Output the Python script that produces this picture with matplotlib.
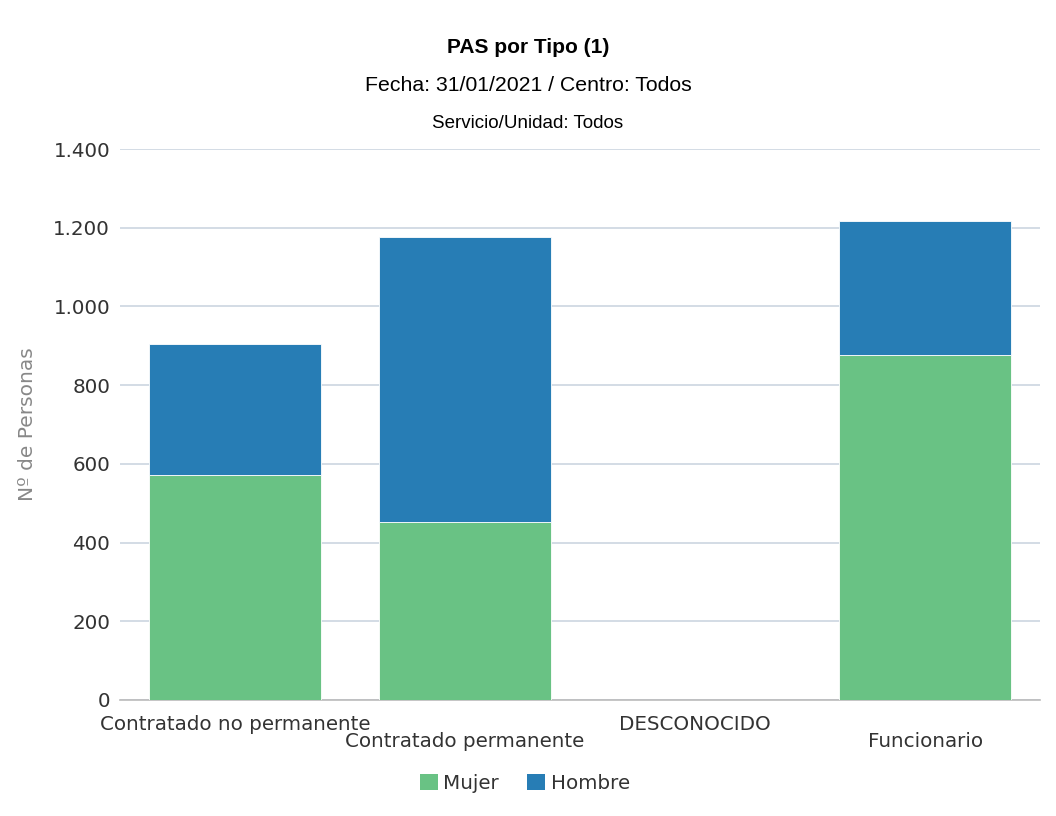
import numpy as np
import matplotlib.pyplot as plt
from matplotlib.patches import Patch
from matplotlib.ticker import FuncFormatter

categorias = ['Contratado no permanente', 'Contratado permanente', 'DESCONOCIDO', 'Funcionario']
mujer = [572, 451, 0, 877]
hombre = [332, 726, 0, 340]

verde = '#69c284'
azul = '#277db5'

plt.rcParams['font.family'] = 'DejaVu Sans'

fig = plt.figure(figsize=(10.56, 8.16), dpi=100)
ax = fig.add_axes([0.1136, 0.1422, 0.8714, 0.6752])

x = np.arange(len(categorias))
ax.bar(x, mujer, width=0.75, color=verde, edgecolor='white', linewidth=0.6, zorder=3)
ax.bar(x, hombre, width=0.75, bottom=mujer, color=azul, edgecolor='white', linewidth=0.6, zorder=3)

ax.set_xlim(-0.5, len(categorias) - 0.5)
ax.set_ylim(0, 1400)
ax.set_yticks(range(0, 1401, 200))
ax.yaxis.set_major_formatter(FuncFormatter(lambda v, p: f'{int(v):,}'.replace(',', '.')))
ax.grid(axis='y', color='#ccd6e0', linewidth=1.2, zorder=0)
ax.set_axisbelow(True)
for s in ['top', 'right', 'left']:
    ax.spines[s].set_visible(False)
ax.spines['bottom'].set_color('#bbbbbb')
ax.spines['bottom'].set_linewidth(1.2)
ax.tick_params(axis='y', length=0, pad=7, labelsize=14.3, labelcolor='#333333')
ax.tick_params(axis='x', length=0, labelsize=14.3, labelcolor='#333333')

ax.set_xticks(x)
ax.set_xticklabels([])
for i, c in enumerate(categorias):
    off = -0.027 if i % 2 == 0 else -0.059
    ax.text(i, off, c, transform=ax.get_xaxis_transform(), ha='center', va='top',
            fontsize=14.3, color='#333333')

ax.set_ylabel('Nº de Personas', fontsize=14.5, color='#888888', labelpad=12)

fig.text(0.5, 0.942, 'PAS por Tipo (1)', ha='center', va='center', fontsize=15,
         fontweight='bold', family='Liberation Sans')
fig.text(0.5, 0.895, 'Fecha: 31/01/2021 / Centro: Todos', ha='center', va='center',
         fontsize=15.3, family='Liberation Sans')
fig.text(0.5, 0.849, 'Servicio/Unidad: Todos', ha='center', va='center',
         fontsize=13.5, family='Liberation Sans')

handles = [Patch(facecolor=verde, label='Mujer'), Patch(facecolor=azul, label='Hombre')]
fig.legend(handles=handles, loc='center', bbox_to_anchor=(0.497, 0.04), ncol=2,
           frameon=False, fontsize=14.3, handlelength=0.9, handleheight=0.9,
           handletextpad=0.3, columnspacing=1.4, labelcolor='#333333')

fig.savefig('out.png', dpi=100)
